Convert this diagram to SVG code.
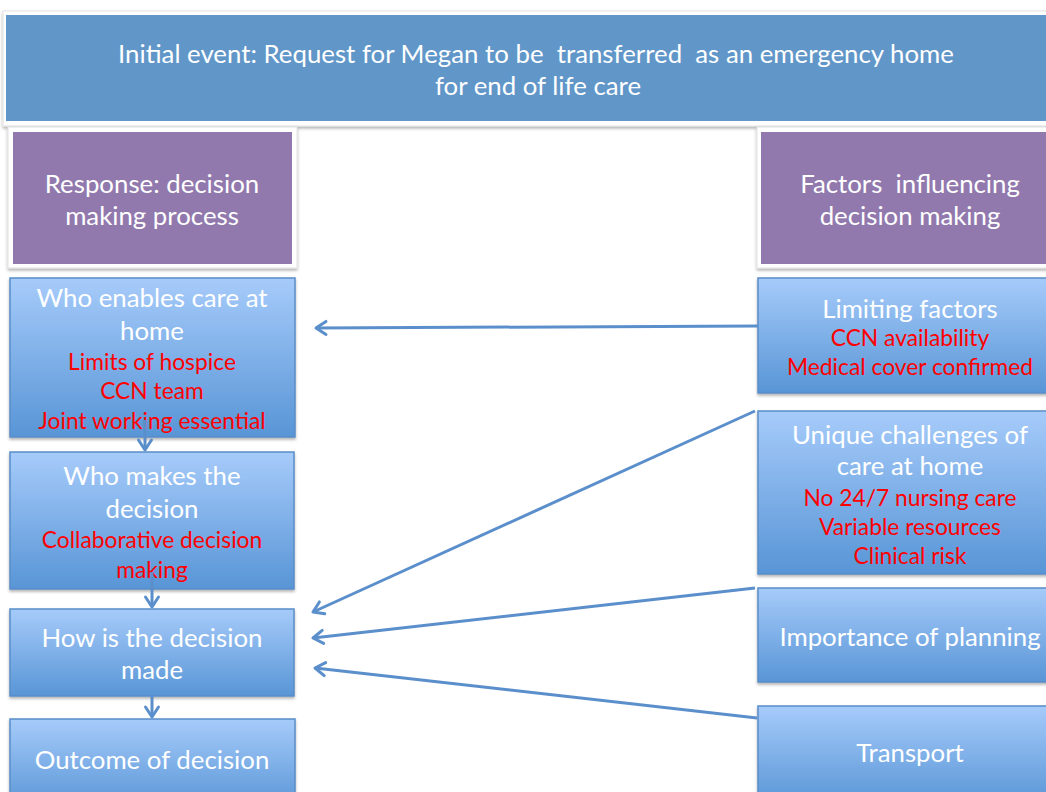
<svg xmlns="http://www.w3.org/2000/svg" width="1046" height="792" viewBox="0 0 1046 792">
  <defs>
    <linearGradient id="blueGrad" x1="0" y1="0" x2="0" y2="1">
      <stop offset="0" stop-color="#A6CBFA"/>
      <stop offset="1" stop-color="#5895D6"/>
    </linearGradient>
    <filter id="shadow" x="-5%" y="-5%" width="110%" height="115%">
      <feDropShadow dx="0" dy="2" stdDeviation="1.5" flood-color="#000" flood-opacity="0.3"/>
    </filter>
    <marker id="chev" markerUnits="userSpaceOnUse" markerWidth="18" markerHeight="18" refX="13" refY="9" orient="auto">
      <path d="M3,2.5 L13,9 L3,15.5" fill="none" stroke="#5B8FCB" stroke-width="3" stroke-linecap="round" stroke-linejoin="round"/>
    </marker>
  </defs>
  <style>
    .frame { fill: #FFFFFF; stroke: #E2E2E2; stroke-width: 1; }
    .banner { fill: #6196C9; }
    .purple { fill: #9179AE; }
    .box { fill: url(#blueGrad); stroke: #5A8DC7; stroke-width: 1.5; }
    .w { font-family: "Lato", "Liberation Sans", sans-serif; font-size: 25.8px; fill: #FFFFFF; text-anchor: middle; white-space: pre; }
    .r { font-family: "Lato", "Liberation Sans", sans-serif; font-size: 22.8px; fill: #FF0000; text-anchor: middle; }
    .conn { fill: none; stroke: #5B8FCB; stroke-width: 3; marker-end: url(#chev); }
  </style>

  <rect width="1046" height="792" fill="#FFFFFF"/>

  <!-- header -->
  <g id="initial-event">
    <rect class="frame" x="3" y="11" width="1050" height="115" filter="url(#shadow)"/>
    <rect class="banner" x="6" y="15" width="1045" height="106"/>
    <text class="w" x="536" y="63" xml:space="preserve">Initial event: Request for Megan to be  transferred  as an emergency home</text>
    <text class="w" x="538" y="95">for end of life care</text>
  </g>

  <!-- column headings -->
  <g id="response-heading">
    <rect class="frame" x="8" y="127" width="289" height="141" filter="url(#shadow)"/>
    <rect class="purple" x="13" y="132" width="279" height="132"/>
    <text class="w" x="152" y="193">Response: decision</text>
    <text class="w" x="152" y="225">making process</text>
  </g>

  <g id="factors-heading">
    <rect class="frame" x="757" y="127" width="295" height="141" filter="url(#shadow)"/>
    <rect class="purple" x="761" y="132" width="290" height="132"/>
    <text class="w" x="910" y="193" xml:space="preserve">Factors  influencing</text>
    <text class="w" x="910" y="225">decision making</text>
  </g>

  <!-- decision making process -->
  <g id="who-enables">
    <rect class="box" x="10" y="278" width="285" height="159" filter="url(#shadow)"/>
    <text class="w" x="152" y="307">Who enables care at</text>
    <text class="w" x="152" y="340">home</text>
    <text class="r" x="152" y="370">Limits of hospice</text>
    <text class="r" x="152" y="399">CCN team</text>
    <text class="r" x="152" y="429">Joint working essential</text>
  </g>

  <g id="who-makes">
    <rect class="box" x="10" y="452" width="284" height="137" filter="url(#shadow)"/>
    <text class="w" x="152" y="485">Who makes the</text>
    <text class="w" x="152" y="518">decision</text>
    <text class="r" x="152" y="548">Collaborative decision</text>
    <text class="r" x="152" y="578">making</text>
  </g>

  <g id="how-made">
    <rect class="box" x="10" y="609" width="284" height="87" filter="url(#shadow)"/>
    <text class="w" x="152" y="647">How is the decision</text>
    <text class="w" x="152" y="679">made</text>
  </g>

  <g id="outcome">
    <rect class="box" x="10" y="719" width="285" height="90" filter="url(#shadow)"/>
    <text class="w" x="152" y="769">Outcome of decision</text>
  </g>

  <!-- influencing factors -->
  <g id="limiting-factors">
    <rect class="box" x="758" y="278" width="300" height="115" filter="url(#shadow)"/>
    <text class="w" x="910" y="318">Limiting factors</text>
    <text class="r" x="910" y="346">CCN availability</text>
    <text class="r" x="910" y="375">Medical cover confirmed</text>
  </g>

  <g id="unique-challenges">
    <rect class="box" x="758" y="411" width="300" height="163" filter="url(#shadow)"/>
    <text class="w" x="910" y="444">Unique challenges of</text>
    <text class="w" x="910" y="475">care at home</text>
    <text class="r" x="910" y="506">No 24/7 nursing care</text>
    <text class="r" x="910" y="535">Variable resources</text>
    <text class="r" x="910" y="564">Clinical risk</text>
  </g>

  <g id="importance-planning">
    <rect class="box" x="758" y="588" width="300" height="94" filter="url(#shadow)"/>
    <text class="w" x="910" y="646">Importance of planning</text>
  </g>

  <g id="transport">
    <rect class="box" x="758" y="706" width="300" height="100" filter="url(#shadow)"/>
    <text class="w" x="910" y="762">Transport</text>
  </g>

  <!-- connectors -->
  <g id="connectors">
    <path class="conn" d="M145,420 L145,450"/>
    <path class="conn" d="M152,572 L152,607"/>
    <path class="conn" d="M152,696 L152,717"/>
    <path class="conn" d="M758,326 L316,328"/>
    <path class="conn" d="M755,411 L313,612"/>
    <path class="conn" d="M755,588 L313,638"/>
    <path class="conn" d="M757,718 L315,668"/>
  </g>
</svg>
